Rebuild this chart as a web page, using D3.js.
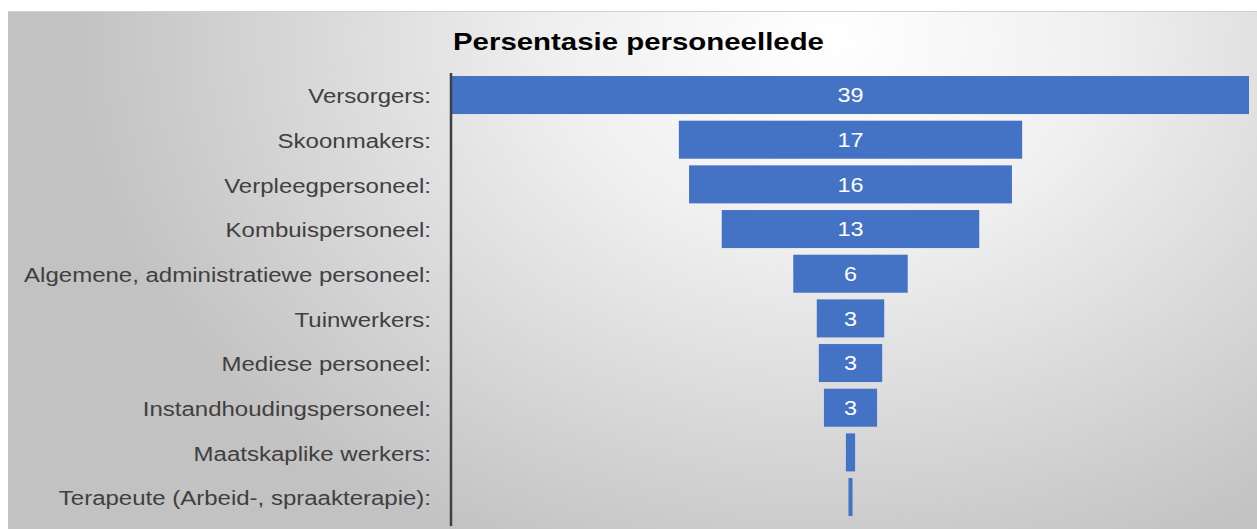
<!DOCTYPE html>
<html><head><meta charset="utf-8">
<script src="https://cdn.jsdelivr.net/npm/d3@7"></script>
<style>html,body{margin:0;padding:0;background:#fff;overflow:hidden}</style>
</head><body>
<svg id="c" width="1257" height="529"></svg>
<script>
const categories = [
  "Versorgers:",
  "Skoonmakers:",
  "Verpleegpersoneel:",
  "Kombuispersoneel:",
  "Algemene, administratiewe personeel:",
  "Tuinwerkers:",
  "Mediese personeel:",
  "Instandhoudingspersoneel:",
  "Maatskaplike werkers:",
  "Terapeute (Arbeid-, spraakterapie):"
];
const values = [39, 16.8, 15.8, 12.6, 5.6, 3.3, 3.1, 2.6, 0.45, 0.2];
const title = "Persentasie personeellede";

const svg = d3.select("#c");
const W = 1257, H = 529;
const STRETCH = 1.2;
const FONT = "Liberation Sans, Arial, sans-serif";
const defs = svg.append("defs");
const grad = defs.append("radialGradient").attr("id","bg")
  .attr("gradientUnits","userSpaceOnUse")
  .attr("cx",830).attr("cy",40).attr("r",760)
  .attr("gradientTransform","translate(830,40) scale(1,0.75) translate(-830,-40)");
grad.append("stop").attr("offset","0").attr("stop-color","#ffffff");
grad.append("stop").attr("offset","0.35").attr("stop-color","#f0f0f0");
grad.append("stop").attr("offset","1").attr("stop-color","#c2c2c2");

svg.append("rect").attr("x",8).attr("y",11).attr("width",W-8).attr("height",H-11).attr("fill","url(#bg)");
svg.append("line").attr("x1",8).attr("x2",W).attr("y1",11.5).attr("y2",11.5).attr("stroke","#cfcfcf").attr("stroke-width",1);

function stretch(sel){
  sel.each(function(){
    const L = this.getComputedTextLength();
    d3.select(this).attr("textLength", L*STRETCH).attr("lengthAdjust","spacingAndGlyphs");
  });
}

const axisX = 451, cx = 850.5;
const y = d3.scaleBand().domain(categories).range([72.9, 519.2]).paddingInner(0.149).paddingOuter(0.07);
const half = d3.scaleLinear().domain([0, 39]).range([0, 1249 - cx]);

svg.append("text").attr("x",453).attr("y",49.5)
  .attr("font-family",FONT).attr("font-weight","bold")
  .attr("font-size",24.5).attr("fill","#000").text(title).call(stretch);

const g = svg.append("g");
g.selectAll("rect.bar").data(categories).join("rect").attr("class","bar")
  .attr("x",(d,i)=>cx-half(values[i]))
  .attr("width",(d,i)=>2*half(values[i]))
  .attr("y",d=>y(d)).attr("height",y.bandwidth())
  .attr("fill","#4472c4");

g.selectAll("text.val").data(categories.filter((d,i)=>2*half(values[i])>30)).join("text").attr("class","val")
  .attr("x",cx).attr("y",d=>y(d)+y.bandwidth()/2)
  .attr("dy","0.38em").attr("text-anchor","middle")
  .attr("font-family",FONT).attr("font-size",19.5)
  .attr("fill","#ffffff")
  .text(d=>d3.format(".0f")(values[categories.indexOf(d)]))
  .call(stretch);

const axis = d3.axisLeft(y).tickSize(0).tickPadding(20);
const ag = svg.append("g").attr("transform",`translate(${axisX},0)`).call(axis);
ag.select(".domain").attr("stroke","#404040").attr("stroke-width",2.5).attr("d","M0,73V526");
ag.selectAll(".tick text").attr("font-family",FONT)
  .attr("font-size",20).attr("fill","#404040").attr("dy","0.42em").call(stretch);
</script>
</body></html>
